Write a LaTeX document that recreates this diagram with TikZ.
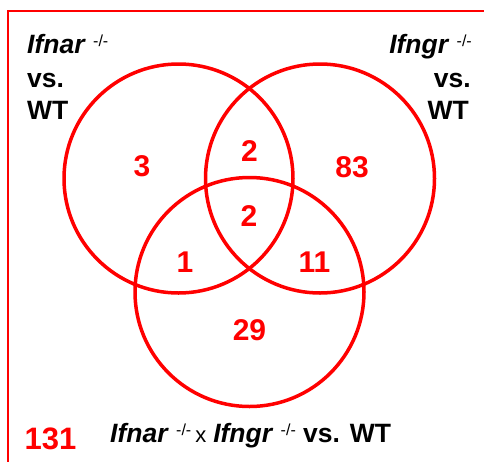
\documentclass[tikz,border=0pt]{standalone}
\usepackage{fontspec}
\setmainfont{Liberation Sans}
\definecolor{vred}{RGB}{255,0,0}
\newcommand{\kosup}{\raisebox{7pt}{\fontsize{16}{16}\selectfont\mdseries\upshape -/-}}
\begin{document}
\begin{tikzpicture}[x=1pt,y=-1pt,
  venn/.style={circle, draw=vred, line width=3.5pt, minimum size=229pt, inner sep=0pt},
  num/.style={text=vred, font=\fontsize{30}{30}\selectfont\bfseries, inner sep=0pt},
  lbl/.style={font=\fontsize{26.5}{26.5}\selectfont\bfseries, inner sep=0pt},
  frame/.style={draw=vred, line width=2.2pt}]
\useasboundingbox (0,0) rectangle (484,461);
\coordinate (fbl) at (8,462);
\coordinate (ftl) at (8,11.3);
\coordinate (ftr) at (485,11.3);
\draw[frame] (fbl) -- (ftl) -- (ftr);
\node[venn] (A) at (178.5,178.5) {};
\node[venn] (B) at (320,178.5) {};
\node[venn] (C) at (249.5,292) {};
\node[num] (nA) at (142,166) {3};
\node[num] (nAB) at (249.5,151) {2};
\node[num] (nB) at (352,167.5) {83};
\node[num] (nABC) at (249,216.5) {2};
\node[num] (nAC) at (185,262) {1};
\node[num] (nBC) at (314.5,262) {11};
\node[num] (nC) at (249.5,330) {29};
\node[num, font=\fontsize{31}{31}\selectfont\bfseries] (tot) at (50.5,439) {131};
\node[lbl, anchor=base west] (a1) at (27,53.3) {\textit{Ifnar}\ \kosup};
\node[lbl, anchor=base west] (a2) at (27,87.5) {vs.};
\node[lbl, anchor=base west] (a3) at (27,119.3) {WT};
\node[lbl, anchor=base east] (b1) at (472,53.3) {\textit{Ifngr}\ \kosup};
\node[lbl, anchor=base east] (b2) at (471,87.5) {vs.};
\node[lbl, anchor=base east] (b3) at (469,119.3) {WT};
\node[lbl, anchor=base west] (c1) at (110,442.5) {\textit{Ifnar}\ \kosup\hspace{4pt}{\mdseries\fontsize{22}{22}\selectfont x}\hspace{7pt}\textit{Ifngr}\ \kosup\ vs. WT};
\end{tikzpicture}
\end{document}
